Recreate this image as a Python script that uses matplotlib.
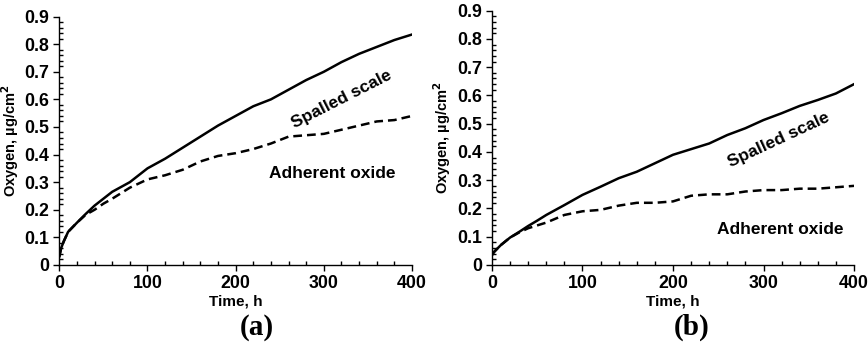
import numpy as np
import matplotlib
matplotlib.use("Agg")
import matplotlib.pyplot as plt
from matplotlib.ticker import MultipleLocator


# Data
TIME = [0, 2, 5, 10, 20, 30, 40, 50, 60, 80, 100, 120, 140, 160, 180, 200,
        220, 240, 260, 280, 300, 320, 340, 360, 380, 400]

SPALLED_A = [0.03, 0.06, 0.085, 0.12, 0.153, 0.185, 0.215, 0.24, 0.265, 0.30,
             0.35, 0.385, 0.425, 0.465, 0.505, 0.54, 0.575, 0.60, 0.635, 0.67,
             0.70, 0.735, 0.765, 0.79, 0.815, 0.835]
ADHERENT_A = [0.03, 0.06, 0.085, 0.12, 0.153, 0.182, 0.20, 0.222, 0.24, 0.28,
              0.31, 0.325, 0.345, 0.375, 0.395, 0.405, 0.42, 0.44, 0.465,
              0.47, 0.475, 0.49, 0.505, 0.52, 0.525, 0.54]

SPALLED_B = [0.035, 0.045, 0.055, 0.071, 0.097, 0.117, 0.138, 0.157, 0.177,
             0.212, 0.248, 0.277, 0.307, 0.33, 0.36, 0.39, 0.41, 0.43, 0.46,
             0.484, 0.513, 0.537, 0.563, 0.584, 0.607, 0.64]
ADHERENT_B = [0.035, 0.045, 0.055, 0.071, 0.097, 0.115, 0.13, 0.14, 0.15,
              0.177, 0.19, 0.195, 0.21, 0.22, 0.22, 0.225, 0.245, 0.25, 0.25,
              0.26, 0.265, 0.265, 0.27, 0.27, 0.275, 0.28]

PANELS = ["(a)", "(b)"]

plt.rcParams["font.family"] = ["Liberation Sans", "DejaVu Sans"]
plt.rcParams["font.weight"] = "bold"


def style_axes(ax):
    ax.set_xlim(0, 400)
    ax.set_ylim(0, 0.9)
    ax.xaxis.set_major_locator(MultipleLocator(100))
    ax.xaxis.set_minor_locator(MultipleLocator(20))
    ax.yaxis.set_minor_locator(MultipleLocator(0.02))
    ax.set_yticks(np.arange(0, 0.91, 0.1))
    ax.set_yticklabels(["0"] + [f"{v:.1f}" for v in np.arange(0.1, 0.91, 0.1)])
    ax.tick_params(which="major", direction="out", length=4, width=1,
                   labelsize=12.8, pad=3)
    ax.tick_params(which="minor", direction="in", length=3, width=1)
    for s in ["top", "right"]:
        ax.spines[s].set_visible(False)
    for s in ["left", "bottom"]:
        ax.spines[s].set_linewidth(1)
    for lab in ax.get_xticklabels() + ax.get_yticklabels():
        lab.set_fontweight("bold")
    ax.set_xlabel("Time, h", fontsize=11, fontweight="bold", labelpad=2)
    ax.set_ylabel("Oxygen, µg/cm$^\\mathbf{2}$", fontsize=10.5,
                  fontweight="bold", labelpad=3)


fig = plt.figure(figsize=(8.68, 3.45), dpi=100)
ax_a = fig.add_axes([0.0683, 0.232, 0.4064, 0.720])
ax_b = fig.add_axes([0.5668, 0.232, 0.4171, 0.737])

ax_a.plot(TIME, SPALLED_A, color="black", lw=1.8)
ax_a.plot(TIME, ADHERENT_A, color="black", lw=1.8, dashes=(3.5, 2))
ax_b.plot(TIME, SPALLED_B, color="black", lw=1.8)
ax_b.plot(TIME, ADHERENT_B, color="black", lw=1.8, dashes=(3.5, 2))

for ax in (ax_a, ax_b):
    style_axes(ax)

ax_a.text(320, 0.60, "Spalled scale", rotation=27, ha="center", va="center",
          fontsize=12.5, fontweight="bold")
ax_a.text(310, 0.333, "Adherent oxide", ha="center", va="center",
          fontsize=12.5, fontweight="bold")
ax_b.text(317, 0.442, "Spalled scale", rotation=25, ha="center", va="center",
          fontsize=12.5, fontweight="bold")
ax_b.text(319, 0.124, "Adherent oxide", ha="center", va="center",
          fontsize=12.5, fontweight="bold")

fig.text(0.296, 0.052, PANELS[0], ha="center", va="center",
         fontsize=21, fontweight="bold", family="Liberation Serif")
fig.text(0.797, 0.052, PANELS[1], ha="center", va="center",
         fontsize=21, fontweight="bold", family="Liberation Serif")

fig.savefig("out.png", dpi=100)
